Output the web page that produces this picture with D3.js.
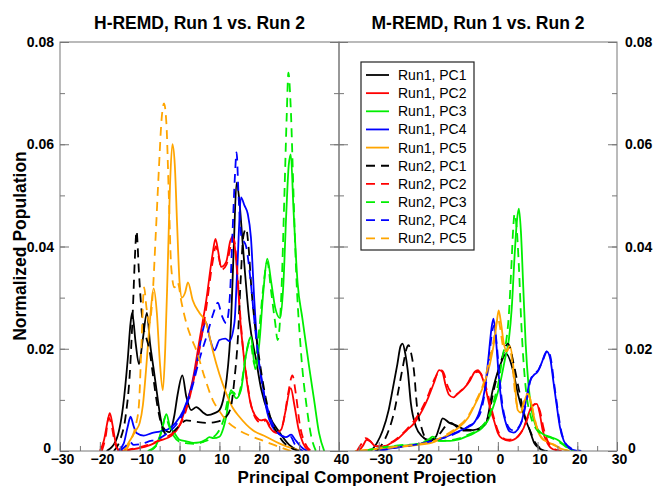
<!DOCTYPE html>
<html>
<head>
<meta charset="utf-8">
<script src="https://cdn.jsdelivr.net/npm/d3@7"></script>
<style>
  body { margin: 0; background: #fff; }
  text { font-family: "Liberation Sans", Arial, sans-serif; }
</style>
</head>
<body>
<div id="chart"></div>
<script>
// ---- data ----
const seriesNames = ["Run1, PC1", "Run1, PC2", "Run1, PC3", "Run1, PC4", "Run1, PC5",
                     "Run2, PC1", "Run2, PC2", "Run2, PC3", "Run2, PC4", "Run2, PC5"];
const seriesColors = ["#000000", "#ff0000", "#00ee00", "#0000ff", "#ffa500",
                      "#000000", "#ff0000", "#00ee00", "#0000ff", "#ffa500"];
const seriesDashed = [false, false, false, false, false, true, true, true, true, true];

const yTicks = [0, 0.02, 0.04, 0.06, 0.08];
const hTicks = [-30, -20, -10, 0, 10, 20, 30, 40];
const mTicks = [-30, -20, -10, 0, 10, 20, 30];

// H-REMD
const h_r1_pc1 = [[-18.3,0],[-16,0.002],[-14.2,0.0086],[-13,0.018],[-12.3,0.025],[-11.9,0.027],[-11,0.021],[-10.2,0.017],[-9.2,0.022],[-8.2,0.027],[-7.4,0.021],[-6.5,0.016],[-5.8,0.012],[-4.2,0.0047],[-2.5,0.0037],[-1.3,0.007],[-0.5,0.011],[0.7,0.0148],[1.7,0.0106],[2.9,0.008],[4.2,0.0086],[5.8,0.0076],[7,0.007],[8.8,0.0074],[10,0.008],[11.2,0.011],[11.8,0.014],[12.9,0.025],[13.6,0.04],[14.3,0.0525],[15,0.049],[15.7,0.042],[16.3,0.036],[17.5,0.0256],[19.2,0.0178],[20.5,0.012],[22.5,0.007],[25,0.0037],[27.5,0.0012],[30,0]];
const h_r1_pc2 = [[-20,0],[-19,0.002],[-18,0.006],[-17.5,0.0074],[-16.8,0.005],[-16,0.0015],[-15,0],[-12,0.0003],[-8,0.001],[-5,0.002],[-2,0.003],[0,0.005],[1.7,0.009],[3.3,0.0139],[5,0.0217],[6.7,0.0295],[8.3,0.0386],[9,0.0415],[9.7,0.039],[10.4,0.036],[11.7,0.037],[12.7,0.041],[13.3,0.042],[14,0.039],[14.6,0.033],[15.3,0.025],[16.2,0.018],[17,0.013],[17.9,0.009],[19.2,0.0067],[20.5,0.006],[21.5,0.0062],[22.5,0.0048],[24,0.0036],[25.5,0.0042],[26.5,0.0075],[27.9,0.0123],[28.8,0.009],[29.8,0.0045],[31,0.0015],[32.5,0]];
const h_r1_pc3 = [[-8,0],[-6,0.001],[-4.5,0.004],[-3.3,0.0072],[-2.5,0.005],[-1.3,0.0035],[0,0.0022],[1.7,0.0019],[3.5,0.0016],[5,0.0017],[6.5,0.0022],[7.5,0.0027],[8.5,0.0025],[10,0.0028],[11,0.0045],[11.7,0.0067],[12.9,0.0119],[14.2,0.0103],[15.4,0.0119],[16.5,0.018],[17.9,0.0223],[19,0.016],[20,0.021],[21,0.031],[22,0.0376],[23,0.033],[24,0.028],[25.2,0.026],[26,0.032],[26.8,0.047],[27.4,0.056],[27.9,0.058],[28.6,0.047],[29.6,0.033],[30.8,0.026],[32.5,0.0165],[33.75,0.01],[35,0.0035],[36.3,0]];
const h_r1_pc4 = [[-15.5,0],[-14,0.0015],[-13,0.0048],[-12.3,0.0067],[-11.5,0.0048],[-10.8,0.0035],[-9,0.003],[-7,0.0035],[-5,0.0038],[-3,0.0042],[-1,0.0055],[1,0.008],[3,0.0125],[4.5,0.018],[5.8,0.0235],[6.6,0.0252],[7.6,0.022],[8.75,0.0197],[10,0.0217],[11.5,0.022],[12.5,0.0215],[13.75,0.025],[14.5,0.036],[15.4,0.0496],[16.3,0.048],[17.1,0.0464],[17.9,0.0418],[18.75,0.0295],[19.6,0.0197],[20.8,0.0132],[22,0.0075],[23.3,0.0047],[25,0.0033],[26.7,0.0027],[28,0.0032],[29,0.0022],[30.5,0.0008],[32,0]];
const h_r1_pc5 = [[-14,0],[-12.5,0.002],[-11,0.004],[-10,0.0055],[-9.2,0.009],[-8.4,0.016],[-7.5,0.025],[-6.5,0.0318],[-5.7,0.027],[-5,0.018],[-4.2,0.0119],[-3.6,0.02],[-3,0.035],[-2.4,0.052],[-1.8,0.06],[-1.2,0.056],[-0.6,0.044],[0,0.033],[0.6,0.03],[1.4,0.031],[2.1,0.033],[3.3,0.0295],[5,0.027],[6.7,0.025],[8.3,0.0197],[10,0.015],[11.7,0.0113],[13.3,0.0085],[15,0.0067],[18.3,0.0041],[21.7,0.0028],[25,0.0015],[28.3,0.0005],[31,0]];
const h_r2_pc1 = [[-16.5,0],[-15,0.002],[-13.5,0.007],[-12.5,0.015],[-11.7,0.028],[-11.2,0.038],[-10.8,0.043],[-10.2,0.035],[-9.6,0.028],[-9,0.024],[-8.3,0.022],[-7.5,0.0195],[-6.7,0.015],[-5.6,0.009],[-4.5,0.005],[-3.3,0.0033],[-2,0.0035],[0,0.005],[1.7,0.006],[4.2,0.0057],[6.7,0.0055],[9.2,0.0057],[11.7,0.0067],[12.9,0.0087],[13.75,0.0139],[14.6,0.0217],[15.3,0.033],[16,0.042],[16.7,0.0435],[17.3,0.04],[18,0.032],[19,0.024],[20,0.018],[21,0.013],[22,0.009],[23,0.006],[24.5,0.0035],[26,0.0018],[28,0.0006],[30,0]];
const h_r2_pc2 = [[-19.5,0],[-18.5,0.003],[-17.8,0.0065],[-17.2,0.0055],[-16.2,0.0015],[-15,0],[-12,0.0004],[-8,0.0012],[-4,0.0025],[-1,0.004],[1,0.0065],[3,0.012],[5,0.02],[6.7,0.028],[8.3,0.037],[9.1,0.04],[9.8,0.038],[10.6,0.0355],[11.8,0.0365],[12.8,0.04],[13.6,0.0415],[14.3,0.037],[15,0.029],[15.8,0.021],[16.8,0.0145],[17.8,0.0095],[19,0.0065],[20.5,0.0055],[21.7,0.006],[23,0.0045],[24.5,0.0035],[26,0.0055],[27.3,0.0115],[28.3,0.0148],[29.2,0.011],[30.2,0.005],[31.5,0.0015],[33,0]];
const h_r2_pc3 = [[-7.5,0],[-5.5,0.0015],[-4.3,0.0045],[-3.5,0.0068],[-2.7,0.005],[-1.5,0.003],[0,0.0018],[2,0.0015],[4,0.0014],[6,0.0018],[8,0.0025],[9.5,0.0035],[11,0.006],[12.5,0.011],[13.5,0.0115],[14.5,0.0105],[15.5,0.013],[16.7,0.019],[17.7,0.0215],[18.8,0.017],[20,0.024],[21,0.032],[22,0.037],[23,0.031],[24,0.025],[24.6,0.0217],[25.5,0.03],[26.3,0.05],[26.9,0.066],[27.3,0.074],[27.9,0.067],[28.6,0.05],[29.2,0.036],[30.4,0.02],[32,0.008],[33,0.003],[34.2,0]];
const h_r2_pc4 = [[-15,0],[-13.5,0.001],[-12.5,0.0018],[-11.5,0.0012],[-10,0.0013],[-8,0.0018],[-5,0.0025],[-3,0.0035],[-1,0.005],[1,0.0075],[3,0.012],[5,0.018],[7,0.023],[8.5,0.027],[9.6,0.029],[10.6,0.0265],[11.7,0.025],[12.6,0.03],[13.3,0.043],[13.9,0.054],[14.3,0.0584],[14.8,0.05],[15.5,0.042],[16.7,0.04],[17.9,0.0327],[18.7,0.026],[19.5,0.02],[20.5,0.014],[22,0.0085],[23.5,0.005],[25,0.0033],[26.5,0.0028],[27.8,0.0028],[29,0.0012],[31,0]];
const h_r2_pc5 = [[-13.5,0],[-12,0.0025],[-11,0.005],[-10.2,0.009],[-9.6,0.02],[-8.9,0.032],[-8.3,0.028],[-7.6,0.025],[-6.8,0.03],[-6,0.042],[-5.2,0.055],[-4.5,0.065],[-3.9,0.068],[-3.3,0.064],[-2.7,0.05],[-2.1,0.036],[-1.3,0.032],[-0.5,0.033],[0.5,0.029],[1.7,0.025],[3,0.022],[4.2,0.0197],[6.25,0.0145],[8.3,0.01],[10,0.0078],[11.7,0.006],[15,0.004],[18.3,0.0028],[21.7,0.0018],[25,0.0008],[28,0]];

// M-REMD
const m_r1_pc1 = [[-32,0],[-30.5,0.0015],[-29,0.004],[-27.5,0.008],[-26.5,0.012],[-25.3,0.017],[-24.5,0.0205],[-24,0.021],[-23.3,0.019],[-22.7,0.0158],[-21.9,0.0093],[-20.6,0.0047],[-19,0.0028],[-17.3,0.0021],[-15.6,0.0028],[-14.8,0.0045],[-13.9,0.0064],[-12.2,0.0055],[-10.5,0.005],[-8.9,0.0044],[-6.3,0.0041],[-4.5,0.0045],[-3,0.0054],[-1.3,0.0119],[0.4,0.0164],[2.1,0.019],[3.8,0.0158],[5,0.0113],[6.7,0.0067],[8,0.0041],[9.2,0.0015],[10.5,0.0005],[12,0]];
const m_r1_pc2 = [[-35,0],[-34,0.001],[-33,0.0022],[-32,0.0018],[-31,0.001],[-29,0.0008],[-27,0.0015],[-25,0.0025],[-23,0.004],[-21,0.0055],[-19,0.008],[-17.5,0.0105],[-16,0.0135],[-14.8,0.0158],[-14,0.0155],[-13.2,0.013],[-12.3,0.011],[-11.2,0.0105],[-10,0.0113],[-8.5,0.0123],[-7,0.0138],[-5.8,0.0155],[-5,0.0158],[-4,0.0145],[-3,0.012],[-2,0.0085],[-1,0.006],[0,0.0035],[1,0.0025],[3,0.002],[5,0.0028],[6.5,0.0045],[7.6,0.007],[8.6,0.0088],[9.8,0.0092],[10.5,0.0075],[11.3,0.004],[12.5,0.0015],[14,0.0003],[16,0]];
const m_r1_pc3 = [[-34,0],[-30,0.0005],[-25,0.001],[-20,0.0013],[-17.5,0.0022],[-16.4,0.0028],[-15,0.002],[-12,0.002],[-10,0.0022],[-8,0.0028],[-6,0.0035],[-4,0.0045],[-2.5,0.006],[-1,0.009],[0.5,0.013],[1.8,0.018],[2.8,0.022],[3.5,0.028],[4.2,0.038],[4.8,0.045],[5.3,0.0474],[5.8,0.043],[6.4,0.032],[7,0.021],[7.7,0.013],[8.5,0.008],[9.5,0.005],[11,0.0035],[13,0.0028],[15,0.0022],[17,0.001],[19,0]];
const m_r1_pc4 = [[-31,0],[-27,0.0005],[-23,0.001],[-20,0.0013],[-17,0.002],[-14,0.0025],[-11,0.0035],[-8,0.0045],[-6,0.0055],[-4.5,0.008],[-3.3,0.012],[-2.4,0.018],[-1.6,0.024],[-1.1,0.0259],[-0.5,0.022],[0.2,0.015],[1,0.009],[2,0.0055],[3,0.0038],[4,0.0036],[5,0.0042],[6,0.0058],[7,0.0095],[8,0.0135],[9,0.0148],[10,0.0155],[11,0.0172],[12.3,0.0195],[13.2,0.018],[14,0.0135],[14.8,0.009],[15.6,0.0048],[16.6,0.002],[18,0.0006],[20,0]];
const m_r1_pc5 = [[-36,0],[-30,0.0004],[-25,0.0008],[-20,0.0012],[-16,0.0018],[-13,0.003],[-10,0.0045],[-7.5,0.0065],[-5.5,0.0095],[-3.5,0.013],[-2,0.017],[-1,0.021],[-0.3,0.025],[0.2,0.0275],[0.8,0.025],[1.5,0.021],[2.3,0.0195],[3,0.0205],[3.7,0.018],[4.4,0.012],[5,0.008],[5.8,0.0075],[6.6,0.0095],[7.4,0.011],[8.2,0.01],[9,0.007],[10,0.004],[11,0.0025],[12.5,0.0018],[14,0.0012],[16,0.0004],[18,0]];
const m_r2_pc1 = [[-30.5,0],[-29,0.0015],[-27.5,0.004],[-26,0.008],[-25,0.012],[-23.8,0.017],[-23,0.02],[-22.5,0.0207],[-21.8,0.019],[-21.1,0.0155],[-20.4,0.009],[-19.2,0.0045],[-17.5,0.002],[-16,0.0022],[-14.5,0.0035],[-13,0.005],[-11.8,0.0055],[-10.5,0.0048],[-8.5,0.004],[-6,0.004],[-4,0.0048],[-2.5,0.0065],[-1,0.012],[1,0.018],[2.5,0.021],[4,0.017],[5.3,0.012],[6.8,0.0068],[8.2,0.0038],[9.5,0.0015],[11,0.0004],[12.5,0]];
const m_r2_pc2 = [[-35.5,0],[-34.5,0.0012],[-33.3,0.0025],[-32.2,0.002],[-31,0.001],[-29,0.0009],[-27,0.0016],[-25,0.0027],[-23,0.0042],[-21,0.006],[-19,0.0085],[-17.5,0.011],[-16,0.014],[-14.3,0.0158],[-13.5,0.015],[-12.8,0.013],[-11.8,0.0115],[-10.6,0.011],[-9.3,0.0118],[-7.8,0.013],[-6.3,0.015],[-5,0.0155],[-4,0.0148],[-3,0.0125],[-2,0.0095],[-1,0.0065],[0,0.004],[1,0.0027],[2.5,0.0022],[4.5,0.0025],[6,0.0038],[7.3,0.006],[8.5,0.0085],[9.6,0.0093],[10.6,0.0078],[11.5,0.0045],[12.7,0.0017],[14.5,0.0003],[16,0]];
const m_r2_pc3 = [[-33.5,0],[-30,0.0006],[-25,0.0011],[-20,0.0014],[-17.2,0.0023],[-16,0.0026],[-14.5,0.002],[-12,0.0021],[-10,0.0024],[-8,0.003],[-6,0.0037],[-4,0.0048],[-2.5,0.0065],[-1,0.0098],[0.3,0.014],[1.3,0.019],[2.1,0.0215],[2.8,0.027],[3.4,0.036],[3.9,0.044],[4.2,0.0464],[4.7,0.044],[5.3,0.036],[5.9,0.025],[6.6,0.016],[7.3,0.0105],[8.2,0.007],[9.5,0.0045],[11,0.0033],[13,0.0027],[15,0.002],[17,0.0009],[19,0]];
const m_r2_pc4 = [[-30,0],[-26,0.0006],[-22,0.0011],[-19,0.0015],[-16,0.0021],[-13,0.0027],[-10,0.0037],[-7.5,0.0048],[-5.5,0.006],[-4,0.0085],[-3,0.013],[-2.1,0.019],[-1.4,0.0235],[-0.9,0.0245],[-0.3,0.021],[0.4,0.0145],[1.2,0.0088],[2.2,0.0055],[3.2,0.0042],[4.2,0.004],[5.2,0.0046],[6.2,0.0062],[7.2,0.0098],[8.2,0.0138],[9.2,0.0152],[10.2,0.0158],[11.2,0.0175],[12.6,0.0197],[13.4,0.0178],[14.2,0.013],[15,0.0085],[15.8,0.0045],[16.8,0.0018],[18.5,0.0005],[21,0]];
const m_r2_pc5 = [[-35,0],[-30,0.0005],[-25,0.0009],[-20,0.0013],[-16,0.002],[-13,0.0032],[-10,0.0048],[-7.5,0.0068],[-5.5,0.0098],[-3.5,0.0135],[-2.2,0.0175],[-1.2,0.021],[-0.5,0.0245],[0,0.026],[0.6,0.024],[1.3,0.0205],[2.1,0.0195],[2.9,0.0205],[3.6,0.0175],[4.3,0.0115],[5,0.0085],[5.8,0.008],[6.7,0.01],[7.5,0.0112],[8.3,0.0098],[9.2,0.0065],[10.2,0.0038],[11.2,0.0025],[12.5,0.0018],[14,0.0013],[16,0.0005],[18,0]];

const hremdSeries = [h_r1_pc1, h_r1_pc2, h_r1_pc3, h_r1_pc4, h_r1_pc5, h_r2_pc1, h_r2_pc2, h_r2_pc3, h_r2_pc4, h_r2_pc5];
const mremdSeries = [m_r1_pc1, m_r1_pc2, m_r1_pc3, m_r1_pc4, m_r1_pc5, m_r2_pc1, m_r2_pc2, m_r2_pc3, m_r2_pc4, m_r2_pc5];

// ---- layout ----
const W = 653, H = 488;
const plotTop = 42, plotBottom = 451;
const dash = "9,6";
const frameColor = "#777";

const svg = d3.select("#chart").append("svg")
    .attr("width", W).attr("height", H)
    .style("background", "#fff");

const y = d3.scaleLinear().domain([0, 0.08]).range([plotBottom, plotTop]);
const fmtY = d => d === 0 ? "0" : d3.format(".2f")(d);

const panels = [
    { name: "H-REMD", left: 60, right: 339, domain: [-30, 40], ticks: hTicks, data: hremdSeries, yLabels: "left" },
    { name: "M-REMD", left: 339, right: 617, domain: [-40, 30], ticks: mTicks, data: mremdSeries, yLabels: "right" }
];

panels.forEach((p, pi) => {
    const x = d3.scaleLinear().domain(p.domain).range([p.left, p.right]);
    const g = svg.append("g");

    g.append("clipPath").attr("id", `clip${pi}`)
      .append("rect")
        .attr("x", p.left).attr("y", plotTop)
        .attr("width", p.right - p.left).attr("height", plotBottom - plotTop);

    // curves
    const line = d3.line()
        .x(d => x(d[0]))
        .y(d => y(d[1]))
        .curve(d3.curveMonotoneX);

    g.append("g").attr("clip-path", `url(#clip${pi})`)
      .selectAll("path")
      .data(p.data)
      .join("path")
        .attr("fill", "none")
        .attr("stroke", (d, i) => seriesColors[i])
        .attr("stroke-width", 1.8)
        .attr("stroke-dasharray", (d, i) => seriesDashed[i] ? dash : null)
        .attr("d", line);

    // x ticks: minor every 5, major every 10
    const xMinor = d3.range(p.domain[0], p.domain[1] + 0.1, 5);
    g.append("g")
        .attr("transform", `translate(0,${plotBottom})`)
        .call(d3.axisBottom(x).tickValues(xMinor).tickSize(-5).tickFormat(""))
        .call(a => a.select(".domain").remove())
        .call(a => a.selectAll("line").attr("stroke", frameColor));
    const xa = g.append("g")
        .attr("transform", `translate(0,${plotBottom})`)
        .call(d3.axisBottom(x).tickValues(p.ticks).tickSize(-9))
        .call(a => a.select(".domain").remove())
        .call(a => a.selectAll("line").attr("stroke", frameColor));
    xa.selectAll("text")
        .attr("x", 2)
        .attr("y", 3)
        .attr("fill", "#000")
        .style("font-size", "14px")
        .style("font-weight", "bold");

    // y ticks, inward on both sides
    const yMinor = d3.range(0, 0.0801, 0.01);
    [[d3.axisLeft, p.left], [d3.axisRight, p.right]].forEach(([ax, pos]) => {
        g.append("g")
            .attr("transform", `translate(${pos},0)`)
            .call(ax(y).tickValues(yMinor).tickSize(-5).tickFormat(""))
            .call(a => a.select(".domain").remove())
            .call(a => a.selectAll("line").attr("stroke", frameColor));
        g.append("g")
            .attr("transform", `translate(${pos},0)`)
            .call(ax(y).tickValues(yTicks).tickSize(-9).tickFormat(""))
            .call(a => a.select(".domain").remove())
            .call(a => a.selectAll("line").attr("stroke", frameColor));
    });

    // y labels (the "0" labels nudged clear of the corner x labels)
    const isLeft = p.yLabels === "left";
    g.append("g").selectAll("text")
      .data(yTicks)
      .join("text")
        .attr("x", d => isLeft ? p.left - 6 - (d === 0 ? 3 : 0) : p.right + 8 + (d === 0 ? 3 : 0))
        .attr("y", d => y(d) - (d === 0 ? 3 : 0))
        .attr("dy", "0.36em")
        .attr("text-anchor", isLeft ? "end" : "start")
        .style("font-size", "14px")
        .style("font-weight", "bold")
        .text(fmtY);

    // frame
    g.append("rect")
        .attr("x", p.left).attr("y", plotTop)
        .attr("width", p.right - p.left).attr("height", plotBottom - plotTop)
        .attr("fill", "none").attr("stroke", frameColor).attr("stroke-width", 1);

    // title
    g.append("text")
        .attr("x", (p.left + p.right) / 2)
        .attr("y", 29)
        .attr("text-anchor", "middle")
        .style("font-size", "17.5px")
        .style("font-weight", "bold")
        .text(`${p.name}, Run 1 vs. Run 2`);
});

// axis titles
svg.append("text")
    .attr("x", 367).attr("y", 483)
    .attr("text-anchor", "middle")
    .style("font-size", "17px")
    .style("font-weight", "bold")
    .text("Principal Component Projection");

svg.append("text")
    .attr("transform", "translate(26,246) rotate(-90)")
    .attr("text-anchor", "middle")
    .style("font-size", "17.5px")
    .style("font-weight", "bold")
    .text("Normalized Population");

// legend
const legend = svg.append("g");
legend.append("rect")
    .attr("x", 361).attr("y", 62)
    .attr("width", 113).attr("height", 188)
    .attr("fill", "#fff").attr("stroke", "#222").attr("stroke-width", 1.2);

const rows = legend.selectAll("g.row")
  .data(seriesNames)
  .join("g")
    .attr("class", "row")
    .attr("transform", (d, i) => `translate(0,${75 + i * 18.15})`);
rows.append("line")
    .attr("x1", 366).attr("x2", 389)
    .attr("stroke", (d, i) => seriesColors[i])
    .attr("stroke-width", 1.8)
    .attr("stroke-dasharray", (d, i) => seriesDashed[i] ? dash : null);
rows.append("text")
    .attr("x", 398)
    .attr("dy", "0.36em")
    .style("font-size", "14px")
    .text(d => d);
</script>
</body>
</html>
